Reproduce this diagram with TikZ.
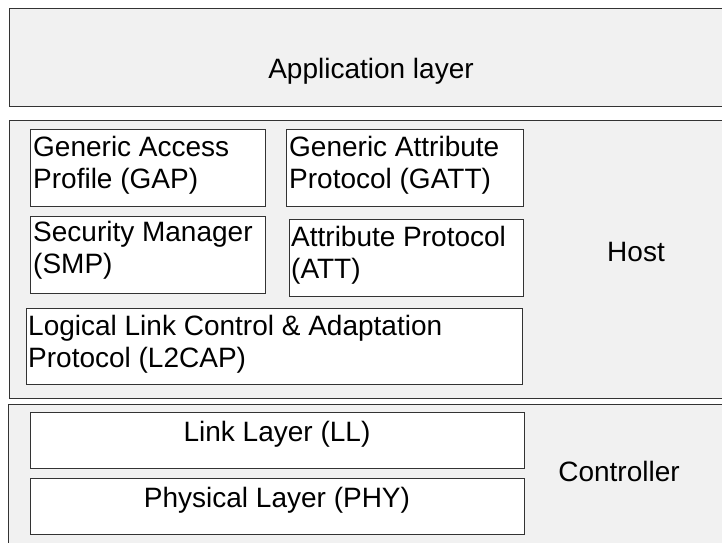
\documentclass[tikz,border=0pt]{standalone}
\usepackage{fontspec}
\setmainfont{Liberation Sans}
\definecolor{panelgrey}{HTML}{F1F1F1}
\definecolor{edge}{HTML}{333333}
\begin{document}
\begin{tikzpicture}[x=1pt,y=-1pt,
  layer/.style={draw=edge, line width=1.4pt, fill=panelgrey, rectangle, inner sep=0pt, anchor=north west},
  block/.style={draw=edge, line width=1pt, fill=white, rectangle, inner sep=0pt, anchor=north west},
  lbl/.style={inner sep=0pt, font=\fontsize{28}{32}\selectfont, align=left},
]
\useasboundingbox (0,0) rectangle (722,542);
\clip (0,0) rectangle (722,542);

% Stack layers (right and bottom edges run past the page)
\node[layer, minimum width=725pt, minimum height=98pt]  (app)  at (9,8)   {};
\node[layer, minimum width=725pt, minimum height=278pt] (host) at (9,120) {};
\node[layer, minimum width=725pt, minimum height=160pt] (ctrl) at (8,404) {};

\node[lbl, anchor=base] (appt)  at (371,78)  {Application layer};
\node[lbl, anchor=base] (hostt) at (636,261) {Host};
\node[lbl, anchor=base] (ctrlt) at (619,481) {Controller};

% Host protocol blocks
\node[block, minimum width=235pt, minimum height=77pt] (gap)   at (30,129)  {};
\node[block, minimum width=237pt, minimum height=77pt] (gatt)  at (286,129) {};
\node[block, minimum width=235pt, minimum height=77pt] (smp)   at (30,216)  {};
\node[block, minimum width=234pt, minimum height=77pt] (att)   at (289,219) {};
\node[block, minimum width=496pt, minimum height=76pt] (l2cap) at (26,308)  {};

\node[lbl, anchor=north west] (gapt)   at (33,136.5)  {Generic Access\\Profile (GAP)};
\node[lbl, anchor=north west] (gattt)  at (289,136.5) {Generic Attribute\\Protocol (GATT)};
\node[lbl, anchor=north west] (smpt)   at (33,221.3)  {Security Manager\\(SMP)};
\node[lbl, anchor=north west] (attt)   at (291,226.3) {Attribute Protocol\\(ATT)};
\node[lbl, anchor=north west] (l2capt) at (28,314.6)  {Logical Link Control \& Adaptation\\Protocol (L2CAP)};

% Controller blocks
\node[block, minimum width=494pt, minimum height=56pt] (ll)  at (30,412) {};
\node[block, minimum width=494pt, minimum height=56pt] (phy) at (30,478) {};

\node[lbl, anchor=base] (llt)  at (277,441) {Link Layer (LL)};
\node[lbl, anchor=base] (phyt) at (277,507) {Physical Layer (PHY)};
\end{tikzpicture}
\end{document}
